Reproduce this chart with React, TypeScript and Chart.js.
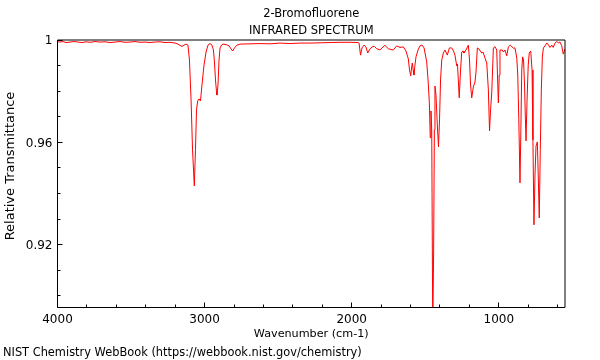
import React, { useEffect, useRef } from 'react';
import { Chart, registerables } from 'chart.js';

Chart.register(...registerables);

const titleLines = ['2-Bromofluorene', 'INFRARED SPECTRUM'];
const xTitle = 'Wavenumber (cm-1)';
const yTitle = 'Relative Transmittance';
const footerText = 'NIST Chemistry WebBook (https://webbook.nist.gov/chemistry)';

const xMin = 550;
const xMax = 4000;
const yMin = 0.8955;
const yMax = 1.0;

const xMajorTicks = [4000, 3000, 2000, 1000];
const xMinorTicks = [3800, 3600, 3400, 3200, 2800, 2600, 2400, 2200, 1800, 1600, 1400, 1200, 800, 600];
const yMajorTicks = [1, 0.96, 0.92];
const yMinorTicks = [0.99, 0.98, 0.97, 0.95, 0.94, 0.93, 0.91, 0.9];

const wavenumbers = [
  4000, 3983, 3963, 3942, 3915, 3888, 3861, 3833, 3806, 3779, 3745, 3711, 3677, 3643, 3609, 3575,
  3541, 3507, 3473, 3439, 3405, 3371, 3337, 3303, 3269, 3235, 3201, 3181, 3167, 3154, 3140, 3126,
  3113, 3103, 3092, 3082, 3070, 3062, 3055, 3047, 3038, 3028, 3018, 3004, 2990, 2977, 2963, 2950,
  2940, 2933, 2926, 2919, 2916, 2909, 2902, 2895, 2885, 2875, 2854, 2834, 2820, 2809, 2797, 2780,
  2759, 2691, 2623, 2555, 2487, 2419, 2351, 2283, 2215, 2147, 2080, 2012, 1957, 1950, 1940, 1930,
  1916, 1903, 1891, 1876, 1862, 1846, 1830, 1808, 1787, 1774, 1751, 1733, 1717, 1694, 1672, 1649,
  1631, 1615, 1607, 1599, 1593, 1588, 1582, 1577, 1570, 1563, 1549, 1536, 1522, 1508, 1490, 1481,
  1472, 1466, 1461, 1456, 1449, 1443, 1438, 1434, 1427, 1418, 1410, 1403, 1396, 1388, 1377, 1366,
  1350, 1336, 1320, 1308, 1298, 1286, 1281, 1269, 1260, 1252, 1243, 1237, 1223, 1207, 1199, 1192,
  1184, 1173, 1162, 1155, 1146, 1135, 1116, 1107, 1094, 1082, 1071, 1063, 1056, 1048, 1037, 1026,
  1014, 1009, 1003, 997, 992, 976, 969, 958, 946, 935, 922, 910, 901, 890, 878, 871,
  864, 856, 850, 844, 838, 832, 825, 820, 815, 808, 800, 793, 783, 774, 768, 761,
  754, 747, 738, 732, 725, 718, 711, 704, 697, 686, 674, 666, 652, 640, 630, 618,
  606, 596, 584, 572, 562, 550,
];

const transmittance = [
  0.9994, 0.9992, 0.9994, 0.999, 0.9992, 0.9994, 0.9992, 0.999, 0.9993, 0.9991, 0.9994, 0.9992, 0.9993, 0.999, 0.9992, 0.9994,
  0.9991, 0.9992, 0.9994, 0.9991, 0.9992, 0.999, 0.9992, 0.9993, 0.999, 0.9991, 0.9988, 0.9984, 0.9979, 0.9975, 0.998, 0.9984,
  0.998, 0.9922, 0.9766, 0.9571, 0.943, 0.9571, 0.9727, 0.9762, 0.977, 0.9762, 0.9824, 0.9902, 0.9953, 0.998, 0.9986, 0.998,
  0.9961, 0.9914, 0.9844, 0.9797, 0.9785, 0.9824, 0.9922, 0.9969, 0.998, 0.9984, 0.9982, 0.9977, 0.9965, 0.9957, 0.9969, 0.998,
  0.9984, 0.9985, 0.9986, 0.9985, 0.9988, 0.9986, 0.9988, 0.9988, 0.9989, 0.999, 0.9991, 0.9991, 0.999, 0.9988, 0.9941, 0.9969,
  0.998, 0.9973, 0.9949, 0.9965, 0.9973, 0.9975, 0.9966, 0.9961, 0.9973, 0.9979, 0.9966, 0.9963, 0.9961, 0.9977, 0.9971, 0.9973,
  0.9957, 0.9926, 0.9883, 0.986, 0.9891, 0.991, 0.9883, 0.9863, 0.9902, 0.9934, 0.9961, 0.9977, 0.998, 0.9969, 0.9914, 0.9844,
  0.9754, 0.9618, 0.9723, 0.9649, 0.8868, 0.918, 0.9649, 0.982, 0.9785, 0.9668, 0.9582, 0.9688, 0.9844, 0.9922, 0.9949, 0.9961,
  0.9941, 0.9969, 0.9969, 0.9957, 0.9941, 0.9899, 0.9906, 0.9774, 0.9883, 0.9953, 0.9957, 0.9949, 0.9961, 0.998, 0.9922, 0.9824,
  0.9774, 0.9817, 0.9836, 0.9875, 0.9969, 0.9965, 0.9949, 0.9953, 0.993, 0.991, 0.9805, 0.9645, 0.9727, 0.9793, 0.9969, 0.9974,
  0.9961, 0.9863, 0.9754, 0.9863, 0.9961, 0.9961, 0.9953, 0.9961, 0.9938, 0.9973, 0.998, 0.9973, 0.9968, 0.9969, 0.993, 0.9863,
  0.9688, 0.9442, 0.9649, 0.9883, 0.9934, 0.9922, 0.9824, 0.9707, 0.9606, 0.9766, 0.9902, 0.9949, 0.9957, 0.9883, 0.961, 0.9278,
  0.9473, 0.9586, 0.9602, 0.9473, 0.9305, 0.9571, 0.9805, 0.9934, 0.9969, 0.9977, 0.9988, 0.9984, 0.9971, 0.998, 0.9971, 0.9988,
  0.9994, 0.9989, 0.9992, 0.9977, 0.9945, 0.9965,
];

const FONT_FAMILY = '"DejaVu Sans", Verdana, sans-serif';

const decorPlugin = {
  id: 'decor',
  afterDatasetsDraw(chart: any) {
    const { ctx, chartArea: a, scales } = chart;
    const xs = scales.x;
    const ys = scales.y;
    ctx.save();
    ctx.strokeStyle = '#000';
    ctx.lineWidth = 1;
    ctx.beginPath();
    ctx.rect(a.left, a.top, a.right - a.left, a.bottom - a.top);
    const crisp = (p: number) => Math.round(p - 0.5) + 0.5;
    yMajorTicks.forEach((v) => {
      const p = crisp(ys.getPixelForValue(v));
      ctx.moveTo(a.left, p);
      ctx.lineTo(a.left + 5, p);
    });
    yMinorTicks.forEach((v) => {
      const p = crisp(ys.getPixelForValue(v));
      ctx.moveTo(a.left, p);
      ctx.lineTo(a.left + 3, p);
    });
    xMajorTicks.forEach((v) => {
      const p = crisp(xs.getPixelForValue(v));
      ctx.moveTo(p, a.bottom);
      ctx.lineTo(p, a.bottom - 5);
    });
    xMinorTicks.forEach((v) => {
      const p = crisp(xs.getPixelForValue(v));
      ctx.moveTo(p, a.bottom);
      ctx.lineTo(p, a.bottom - 3);
    });
    ctx.stroke();
    ctx.restore();
  },
  afterDraw(chart: any) {
    const { ctx } = chart;
    ctx.save();
    ctx.fillStyle = '#000';
    ctx.textBaseline = 'middle';
    // footer
    ctx.font = `11.4px ${FONT_FAMILY}`;
    ctx.textAlign = 'left';
    ctx.fillText(footerText, 3, 353.5);
    // y axis title
    ctx.font = `13px ${FONT_FAMILY}`;
    ctx.textAlign = 'center';
    ctx.translate(10.5, 166);
    ctx.rotate(-Math.PI / 2);
    ctx.fillText(yTitle, 0, 0);
    ctx.restore();
  },
};

export default function App() {
  const canvasRef = useRef<HTMLCanvasElement | null>(null);

  useEffect(() => {
    const canvas = canvasRef.current;
    if (!canvas) return;
    const points = wavenumbers.map((w, i) => ({ x: w, y: transmittance[i] }));
    const font = { family: FONT_FAMILY, size: 12, weight: 'normal' as const };
    const chart = new Chart(canvas, {
      type: 'line',
      data: {
        datasets: [
          {
            data: points,
            borderColor: '#ff0000',
            borderWidth: 1,
            pointRadius: 0,
            fill: false,
            tension: 0,
          },
        ],
      },
      options: {
        responsive: false,
        animation: false,
        devicePixelRatio: 1,
        layout: { padding: { top: 0, left: 0, right: 35, bottom: 0 } },
        plugins: {
          legend: { display: false },
          tooltip: { enabled: false },
          title: {
            display: true,
            fullSize: false,
            text: titleLines,
            color: '#000',
            font: { family: FONT_FAMILY, size: 11.5, weight: 'normal', lineHeight: 17 / 11.5 },
            padding: { top: 5.5, bottom: 0.5 },
          },
        },
        scales: {
          x: {
            type: 'linear',
            reverse: true,
            min: xMin,
            max: xMax,
            afterBuildTicks: (s: any) => {
              s.ticks = xMajorTicks.map((v) => ({ value: v }));
            },
            afterFit: (s: any) => {
              s.height = 52.5;
            },
            ticks: {
              color: '#000',
              font,
              padding: 5,
              maxRotation: 0,
              autoSkip: false,
              callback: (v: any) => String(v),
            },
            grid: { display: false, drawTicks: false },
            border: { display: false },
            title: {
              display: true,
              text: xTitle,
              color: '#000',
              font: { family: FONT_FAMILY, size: 11.2, weight: 'normal' },
              padding: { top: 0, bottom: 19.5 },
            },
          },
          y: {
            type: 'linear',
            min: yMin,
            max: yMax,
            afterBuildTicks: (s: any) => {
              s.ticks = yMajorTicks.map((v) => ({ value: v }));
            },
            afterFit: (s: any) => {
              s.width = 57.5;
            },
            ticks: {
              color: '#000',
              font,
              padding: 5,
              labelOffset: 1,
              autoSkip: false,
              callback: (v: any) => String(v),
            },
            grid: { display: false, drawTicks: false },
            border: { display: false },
            title: { display: false },
          },
        },
      },
      plugins: [decorPlugin],
    });
    return () => chart.destroy();
  }, []);

  return (
    <div style={{ position: 'fixed', left: 0, top: 0, width: 600, height: 360, background: '#fff' }}>
      <canvas ref={canvasRef} width={600} height={360} style={{ display: 'block', width: 600, height: 360 }} />
    </div>
  );
}
